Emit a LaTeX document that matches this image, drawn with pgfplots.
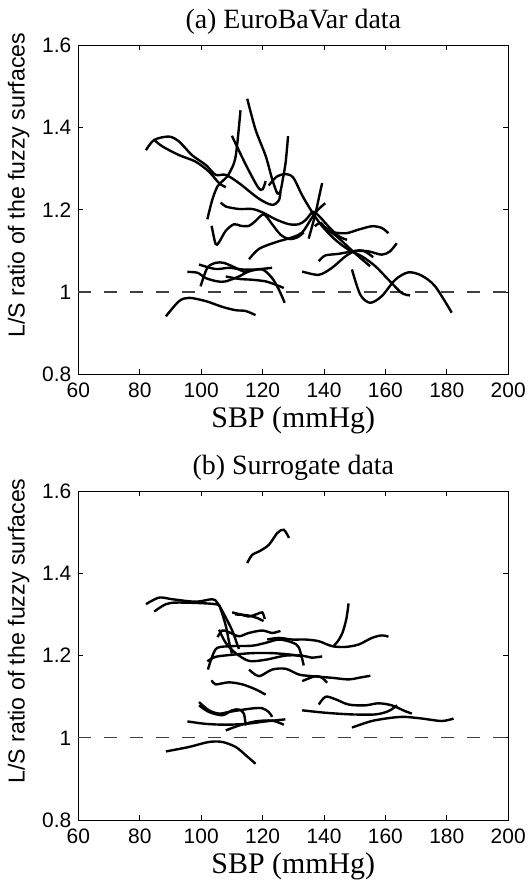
\documentclass[border=0pt]{standalone}
\usepackage{fontspec}
\setmainfont{Liberation Serif}
\newfontfamily\arialfont{Liberation Sans}
\usepackage{pgfplots}
\pgfplotsset{compat=1.18}

\pgfplotsset{
  every axis title shift=0pt,
  panel/.style={
    width=215.5pt, height=165pt, scale only axis,
    xmin=60, xmax=200, ymin=0.8, ymax=1.6,
    xtick={60,80,...,200}, ytick={0.8,1,1.2,1.4,1.6},
    tick align=inside, tick pos=both, major tick length=2.5pt,
    tick style={black, line width=0.4pt},
    axis line style={line width=0.5pt},
    /pgf/number format/assume math mode=true,
    ticklabel style={font=\arialfont\fontsize{10.5}{12}\selectfont},
    xticklabel style={yshift=-2.2pt, inner sep=1.8pt},
    xlabel={SBP (mmHg)},
    ylabel={\arialfont L/S ratio of the fuzzy surfaces},
    x label style={at={(axis description cs:0.5,-0.092)}, anchor=north,
      inner sep=1pt, font=\fontsize{15}{17}\selectfont},
    y label style={at={(axis description cs:-0.1833,0.575)}, anchor=north,
      inner sep=4pt, font=\arialfont\fontsize{11.6}{14}\selectfont},
    title style={font=\fontsize{14}{16}\selectfont, at={(axis description cs:0.5,1)},
      anchor=south, inner sep=4.8pt, yshift=0.2pt},
    clip=false,
  },
  curve/.style={black, line width=1.2pt, smooth, tension=0.5},
  ref/.style={black!75, line width=0.6pt, dash pattern=on 6.5pt off 6.5pt},
}

\begin{document}
\begin{tikzpicture}

% (a) EuroBaVar
\begin{axis}[panel, at={(0,0)}, anchor=north west, title={(a) EuroBaVar data}]
\addplot[ref] coordinates {(60,1) (200,1)};
\addplot[curve] coordinates {(82,1.345) (84.7,1.37) (89.5,1.378) (92.8,1.366) (97,1.333) (101.5,1.309) (104.7,1.285) (108,1.285) (112.3,1.265) (118.8,1.227) (123.1,1.212) (125.3,1.223) (125.8,1.243)};
\addplot[curve] coordinates {(84.7,1.37) (87.4,1.354) (92.8,1.333) (98.2,1.317) (102.5,1.293) (105.8,1.265) (108,1.255)};
\addplot[curve] coordinates {(102,1.177) (103.6,1.224) (105.3,1.257) (107.4,1.273) (109,1.287) (111.2,1.329) (112.8,1.442)};
\addplot[curve] coordinates {(110,1.38) (114.5,1.31) (118.5,1.255) (120,1.25) (121,1.27)};
\addplot[curve] coordinates {(115,1.47) (117.7,1.395) (121,1.331) (123.1,1.275) (124.8,1.24) (125.8,1.245) (126.6,1.275) (127.5,1.315) (128.3,1.379)};
\addplot[curve] coordinates {(122,1.259) (124.5,1.28) (127.5,1.287) (130,1.278) (132.9,1.235) (136.1,1.195) (139.4,1.160) (143.7,1.127) (148,1.103) (152.3,1.087) (156.7,1.063) (161,1.030) (165.3,0.998) (168,0.992)};
\addplot[curve] coordinates {(106.4,1.218) (108,1.208) (112.3,1.202) (116.6,1.202) (119.9,1.194) (124.2,1.177) (128.6,1.165) (131.8,1.165) (134,1.175) (136.5,1.195) (139,1.18) (142,1.155) (145,1.135) (147.5,1.127)};
\addplot[curve] coordinates {(135,1.13) (136.5,1.17) (137.5,1.2) (138.5,1.235) (139.4,1.265)};
\addplot[curve] coordinates {(137,1.16) (139,1.168) (141.5,1.148) (147,1.143) (151.3,1.152) (155.6,1.16) (158.8,1.156) (161,1.143)};
\addplot[curve] coordinates {(115.6,1.08) (118.8,1.105) (124.2,1.121) (129.6,1.133) (132.9,1.145) (136,1.18) (138,1.2) (140.4,1.216)};
\addplot[curve] coordinates {(103.4,1.161) (104.7,1.117) (105.8,1.121) (108,1.149) (110.7,1.165) (112.9,1.161) (115.6,1.161) (117.7,1.173) (120.4,1.189) (123.1,1.165) (125.8,1.14) (128.6,1.129) (131.3,1.133) (133.4,1.145)};
\addplot[curve] coordinates {(138.3,1.075) (140.4,1.089) (144.8,1.093) (150.2,1.1) (154.5,1.099) (158.8,1.091) (161.5,1.099) (163.7,1.119)};
\addplot[curve] coordinates {(132.9,1.05) (138.3,1.042) (142.6,1.059) (147,1.087) (150.2,1.1) (153,1.1) (156,1.085)};
\addplot[curve] coordinates {(140,1.16) (144.8,1.131) (150,1.095) (155,1.063)};
\addplot[curve] coordinates {(149.1,1.055) (151.8,0.994) (155,0.974) (158.8,0.99) (163.2,1.03) (167.5,1.048) (171.8,1.04) (176.2,1.014) (181.6,0.95)};
\addplot[curve] coordinates {(88.5,0.941) (92.8,0.978) (96.1,0.986) (101.5,0.978) (106.9,0.964) (111.2,0.956) (114.5,0.954) (117.7,0.944)};
\addplot[curve] coordinates {(95.5,1.049) (98.8,1.047) (101.5,1.034) (105.3,1.026) (108,1.026) (112.3,1.038) (115.5,1.05) (119.9,1.055) (123.1,1.034) (125.3,1.006) (127.2,0.974)};
\addplot[curve] coordinates {(99.3,1.067) (104.7,1.056) (109,1.059) (113.4,1.055) (117.7,1.055) (123.1,1.059)};
\addplot[curve] coordinates {(99.8,1.014) (102,1.059) (104.7,1.071) (107.4,1.071) (111.2,1.059) (114.5,1.047)};
\addplot[curve] coordinates {(108,1.038) (112.3,1.032) (116.6,1.03) (121,1.026) (124.2,1.018) (126.9,1.01)};
\end{axis}

% (b) Surrogate
\begin{axis}[panel, at={(0,-223.5pt)}, anchor=north west, title={(b) Surrogate data}]
\addplot[ref] coordinates {(60,1) (200,1)};
\addplot[curve] coordinates {(115,1.425) (116.6,1.445) (118.8,1.453) (122,1.469) (124.8,1.498) (126.9,1.506) (128.6,1.486)};
\addplot[curve] coordinates {(82,1.325) (86.3,1.341) (90.6,1.337) (98.2,1.331) (103.6,1.337) (105.2,1.329) (107.4,1.301) (110.1,1.261) (111.7,1.228) (112.3,1.216)};
\addplot[curve] coordinates {(84.7,1.307) (88.5,1.325) (92.8,1.329) (104.7,1.325) (106.3,1.313) (108,1.273) (109,1.236) (110,1.205)};
\addplot[curve] coordinates {(110.1,1.305) (113.4,1.299) (115.5,1.295) (118.2,1.301) (119.9,1.305) (120.7,1.289)};
\addplot[curve] coordinates {(111,1.3) (115,1.298) (118,1.292) (120.3,1.284)};
\addplot[curve] coordinates {(105.3,1.245) (106.9,1.261) (109,1.257) (112.3,1.247) (115.5,1.255) (119.9,1.261) (123.1,1.255) (125.8,1.26)};
\addplot[curve] coordinates {(105.8,1.263) (108,1.231) (111.2,1.206) (115.6,1.187) (121,1.19) (127.5,1.2) (132.9,1.2) (136,1.195) (139.4,1.198)};
\addplot[curve] coordinates {(102.2,1.166) (103.6,1.198) (105.3,1.219) (110.1,1.223) (116.6,1.224) (121,1.231) (125.3,1.239) (129.6,1.232) (131.8,1.22) (133.4,1.176)};
\addplot[curve] coordinates {(102,1.186) (104.7,1.197) (110.1,1.202) (116.6,1.206) (123.1,1.206) (129.6,1.202) (132.9,1.198)};
\addplot[curve] coordinates {(121.5,1.239) (125.3,1.243) (129.6,1.239) (134,1.239) (138.3,1.235) (142.6,1.223) (146.9,1.221) (151.3,1.227) (155.6,1.243) (158.8,1.249) (161,1.246)};
\addplot[curve] coordinates {(148,1.327) (147.3,1.29) (146,1.255) (144.5,1.235) (143,1.222)};
\addplot[curve] coordinates {(115.6,1.166) (118.8,1.15) (123.1,1.166) (127.5,1.168) (131.8,1.154) (136.1,1.15) (142.6,1.146) (148,1.142) (151.3,1.146) (155.1,1.151)};
\addplot[curve] coordinates {(132.9,1.138) (137.2,1.15) (139.4,1.146) (141,1.134)};
\addplot[curve] coordinates {(103.4,1.14) (104.7,1.13) (109,1.135) (113.4,1.13) (117.7,1.118) (121,1.105)};
\addplot[curve] coordinates {(138.3,1.081) (140.5,1.1) (143.7,1.094) (148,1.081) (153.4,1.079) (157.7,1.084) (162.1,1.079) (166.4,1.065) (168.6,1.059)};
\addplot[curve] coordinates {(132.9,1.067) (140.5,1.061) (149.1,1.057) (156.7,1.057) (161,1.065) (163.8,1.079)};
\addplot[curve] coordinates {(149.1,1.025) (155.6,1.041) (162.1,1.049) (166.4,1.051) (171.9,1.047) (178.4,1.041) (182.2,1.047)};
\addplot[curve] coordinates {(88.5,0.967) (96.1,0.978) (102.5,0.99) (106.9,0.99) (111.2,0.978) (114.5,0.958) (117.7,0.937)};
\addplot[curve] coordinates {(99.3,1.087) (102.5,1.067) (105.8,1.059) (109,1.063) (112.3,1.067) (117.2,1.072) (119.9,1.072) (122,1.063) (123.1,1.051)};
\addplot[curve] coordinates {(99.3,1.079) (102.5,1.063) (106.9,1.055) (110.1,1.067) (112.3,1.069) (113.9,1.059) (114.5,1.03)};
\addplot[curve] coordinates {(95.5,1.04) (101.5,1.034) (108,1.032) (114.5,1.034) (121,1.04) (127.4,1.045)};
\addplot[curve] coordinates {(108,1.018) (112.3,1.03) (117.7,1.04) (123.1,1.042) (126.9,1.032)};
\end{axis}

\end{tikzpicture}
\end{document}
